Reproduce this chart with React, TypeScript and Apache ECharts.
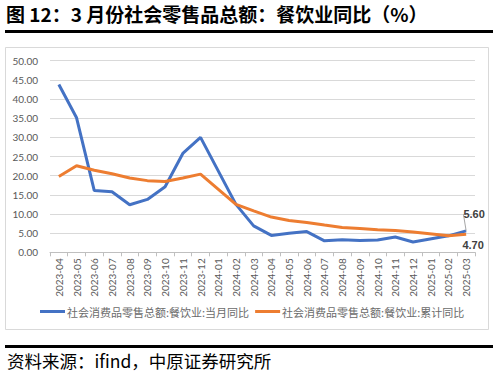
import React, { useEffect, useRef } from "react";
import * as echarts from "echarts";

const categories = [
  "2023-04", "2023-05", "2023-06", "2023-07", "2023-08", "2023-09", "2023-10", "2023-11", "2023-12",
  "2024-01", "2024-02", "2024-03", "2024-04", "2024-05", "2024-06", "2024-07", "2024-08", "2024-09",
  "2024-10", "2024-11", "2024-12", "2025-01", "2025-02", "2025-03",
];
const monthlyYoY: (number | null)[] = [
  43.8, 35.1, 16.1, 15.8, 12.4, 13.8, 17.1, 25.8, 30.0,
  null, 12.5, 6.9, 4.4, 5.0, 5.4, 3.0, 3.3, 3.1,
  3.2, 4.0, 2.7, null, 4.3, 5.6,
];
const cumulativeYoY: (number | null)[] = [
  19.8, 22.6, 21.4, 20.5, 19.4, 18.7, 18.5, 19.4, 20.4,
  null, 12.5, 10.8, 9.2, 8.3, 7.8, 7.1, 6.5, 6.2,
  5.9, 5.7, 5.3, null, 4.3, 4.7,
];
const seriesNames = ["社会消费品零售总额:餐饮业:当月同比", "社会消费品零售总额:餐饮业:累计同比"];
const titleText = "图 12：3 月份社会零售品总额：餐饮业同比（%）";
const sourceText = "资料来源：ifind，中原证券研究所";

const CJK = '"Noto Sans CJK SC", "Noto Sans", sans-serif';
const NUM = 'Lato, "Noto Sans", sans-serif';

export default function App() {
  const ref = useRef<HTMLDivElement>(null);
  useEffect(() => {
    document.body.style.margin = "0";
    const chart = echarts.init(ref.current!, null, { renderer: "svg" });
    const last = categories.length - 1;
    const fmt = (p: any) => Number(p.value).toFixed(2);
    const blueData = monthlyYoY.map((v, i) =>
      i === last ? { value: v, label: { show: true, position: "top", formatter: fmt } } : v
    );
    const orangeData = cumulativeYoY.map((v, i) =>
      i === last ? { value: v, label: { show: true, position: "bottom", offset: [7, 0], formatter: fmt } } : v
    );
    const labelStyle = { color: "#404040", fontSize: 11, fontWeight: "bold", fontFamily: 'Arial, "Liberation Sans", sans-serif' };
    chart.setOption({
      animation: false,
      backgroundColor: "#ffffff",
      graphic: [
        { type: "text", left: 6, top: 4, style: { text: titleText, font: `bold 19px ${CJK}`, fill: "#000" } },
        { type: "rect", shape: { x: 5, y: 30, width: 488, height: 3 }, style: { fill: "#000" } },
        { type: "rect", shape: { x: 5.5, y: 47.5, width: 483, height: 282 }, style: { fill: "none", stroke: "#d9d9d9", lineWidth: 1 } },
        { type: "rect", shape: { x: 5, y: 345, width: 488, height: 3 }, style: { fill: "#000" } },
        { type: "text", left: 7, top: 352, style: { text: sourceText, font: `17.5px ${CJK}`, fill: "#000" } },
      ],
      grid: { left: 50, right: 24, top: 60.7, bottom: 125.7, containLabel: false },
      legend: {
        left: 40,
        top: 306,
        padding: 0,
        itemGap: 6,
        itemWidth: 25,
        itemHeight: 3,
        icon: "rect",
        textStyle: { color: "#6b6b6b", fontSize: 11, fontFamily: CJK, padding: [0, 0, 0, -3] },
        data: seriesNames,
      },
      xAxis: {
        type: "category",
        data: categories,
        boundaryGap: true,
        axisLine: { lineStyle: { color: "#bfbfbf" } },
        axisTick: { show: true, alignWithLabel: false, length: 4, lineStyle: { color: "#bfbfbf" } },
        axisLabel: { rotate: 90, color: "#595959", fontSize: 10, fontFamily: NUM, margin: 6, interval: 0 },
      },
      yAxis: {
        type: "value",
        min: 0,
        max: 50,
        interval: 5,
        axisLine: { show: false },
        axisTick: { show: false },
        splitLine: { lineStyle: { color: "#d9d9d9" } },
        axisLabel: { color: "#595959", fontSize: 10, fontFamily: NUM, margin: 12, formatter: (v: number) => v.toFixed(2) },
      },
      series: [
        {
          name: seriesNames[0],
          type: "line",
          data: blueData,
          connectNulls: true,
          symbol: "circle",
          symbolSize: 0,
          showSymbol: true,
          lineStyle: { color: "#4472c4", width: 3 },
          itemStyle: { color: "#4472c4" },
          label: labelStyle,
          labelLayout: { dx: 8, dy: -6 },
          labelLine: { show: true, lineStyle: { color: "#a6a6a6", width: 1 } },
        },
        {
          name: seriesNames[1],
          type: "line",
          data: orangeData,
          connectNulls: true,
          symbol: "circle",
          symbolSize: 0,
          showSymbol: true,
          lineStyle: { color: "#ed7d31", width: 3 },
          itemStyle: { color: "#ed7d31" },
          label: labelStyle,
        },
      ],
    });
    return () => chart.dispose();
  }, []);
  return <div ref={ref} style={{ width: 499, height: 378 }} />;
}
